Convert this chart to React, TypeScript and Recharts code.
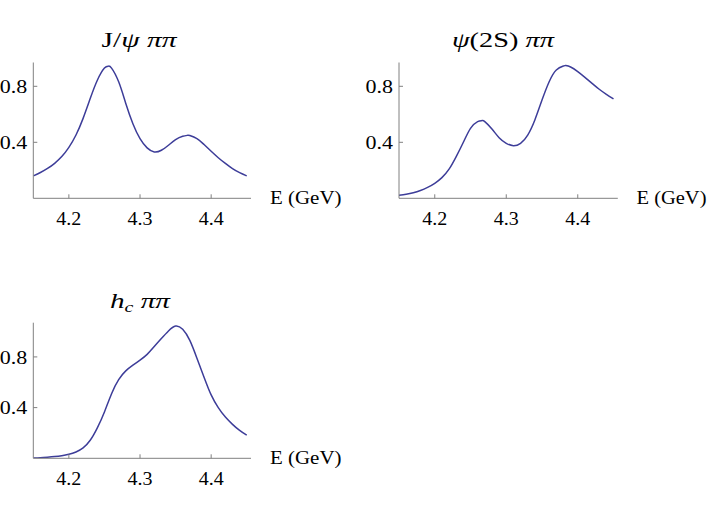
import React from 'react';
import { LineChart, Line, XAxis, YAxis } from 'recharts';

// J/psi pi pi
const jpsiEnergy = [4.15, 4.16, 4.17, 4.18, 4.19, 4.2, 4.21, 4.22, 4.23, 4.24, 4.25, 4.2555, 4.26, 4.27, 4.28, 4.29, 4.3, 4.31, 4.32, 4.33, 4.34, 4.35, 4.36, 4.367, 4.37, 4.38, 4.39, 4.4, 4.41, 4.42, 4.43, 4.44, 4.45];
const jpsiValue = [0.16, 0.184, 0.213, 0.25, 0.298, 0.364, 0.452, 0.571, 0.712, 0.843, 0.93, 0.944, 0.93, 0.832, 0.677, 0.533, 0.426, 0.36, 0.331, 0.343, 0.379, 0.419, 0.443, 0.45, 0.448, 0.426, 0.384, 0.336, 0.29, 0.249, 0.212, 0.183, 0.16];

// psi(2S) pi pi
const psiEnergy = [4.15, 4.16, 4.17, 4.18, 4.19, 4.2, 4.21, 4.22, 4.23, 4.24, 4.25, 4.26, 4.266, 4.27, 4.28, 4.29, 4.3, 4.31, 4.32, 4.33, 4.34, 4.35, 4.36, 4.37, 4.38, 4.3833, 4.39, 4.4, 4.41, 4.42, 4.43, 4.44, 4.45];
const psiValue = [0.021, 0.029, 0.04, 0.056, 0.078, 0.107, 0.148, 0.208, 0.298, 0.4, 0.5, 0.548, 0.555, 0.548, 0.495, 0.433, 0.393, 0.376, 0.393, 0.452, 0.56, 0.702, 0.833, 0.917, 0.945, 0.948, 0.938, 0.905, 0.864, 0.821, 0.779, 0.743, 0.71];

// h_c pi pi
const hcEnergy = [4.15, 4.16, 4.17, 4.18, 4.19, 4.2, 4.21, 4.22, 4.23, 4.24, 4.25, 4.26, 4.27, 4.28, 4.29, 4.3, 4.31, 4.32, 4.33, 4.34, 4.35, 4.36, 4.37, 4.38, 4.39, 4.4, 4.41, 4.42, 4.43, 4.44, 4.45];
const hcValue = [0.003, 0.005, 0.009, 0.014, 0.021, 0.032, 0.05, 0.082, 0.142, 0.24, 0.366, 0.51, 0.621, 0.69, 0.735, 0.775, 0.82, 0.882, 0.945, 1.005, 1.044, 1.018, 0.93, 0.79, 0.64, 0.5, 0.4, 0.325, 0.268, 0.22, 0.182];

const xTicks = [4.2, 4.3, 4.4];
const yTicks = [0.4, 0.8];
const xDomain = [4.15, 4.456];

const FONT = 'Liberation Serif';
const AXIS = '#808080';
const CURVE = '#3d3d99';

const toRows = (es: number[], vs: number[]) => es.map((e, i) => ({ e, v: vs[i] }));

const XTick = (props: any) => {
  const { x, y, payload } = props;
  return (
    <text x={x} y={y} dy={26.5} textAnchor="middle" fontFamily={FONT} fontSize={18}
      textLength={25} lengthAdjust="spacingAndGlyphs" fill="#000">
      {Number(payload.value).toFixed(1)}
    </text>
  );
};

const YTick = (props: any) => {
  const { x, y, payload } = props;
  return (
    <text x={x} y={y} dy={6.6} textAnchor="end" fontFamily={FONT} fontSize={18}
      textLength={27.5} lengthAdjust="spacingAndGlyphs" fill="#000">
      {Number(payload.value).toFixed(1)}
    </text>
  );
};

type PanelProps = {
  left: number; top: number; width: number; height: number;
  yAxisWidth: number; marginTop: number; marginRight: number; marginBottom: number;
  yMax: number; rows: { e: number; v: number }[];
};

const Panel = (p: PanelProps) => (
  <div style={{ position: 'absolute', left: p.left, top: p.top }}>
    <LineChart width={p.width} height={p.height} data={p.rows}
      margin={{ top: p.marginTop, right: p.marginRight, bottom: p.marginBottom, left: 0 }}>
      <XAxis dataKey="e" type="number" domain={xDomain} ticks={xTicks} allowDataOverflow
        height={30} tickSize={-4} tickMargin={4} stroke={AXIS}
        axisLine={{ stroke: AXIS, strokeWidth: 1 }} tickLine={{ stroke: AXIS }} tick={<XTick />} />
      <YAxis type="number" domain={[0, p.yMax]} ticks={yTicks} allowDataOverflow
        width={p.yAxisWidth} tickSize={-4} tickMargin={10} stroke={AXIS}
        axisLine={{ stroke: AXIS, strokeWidth: 1 }} tickLine={{ stroke: AXIS }} tick={<YTick />} />
      <Line dataKey="v" type="natural" stroke={CURVE} strokeWidth={1.5} dot={false}
        activeDot={false} isAnimationActive={false} />
    </LineChart>
  </div>
);

export default function App() {
  return (
    <div style={{ position: 'absolute', left: 0, top: 0, width: 708, height: 508, background: '#fff', overflow: 'hidden' }}>
      <Panel left={0} top={0} width={360} height={250} yAxisWidth={33.3}
        marginTop={62.5} marginRight={109} marginBottom={21.7} yMax={0.97}
        rows={toRows(jpsiEnergy, jpsiValue)} />
      <Panel left={360} top={0} width={348} height={250} yAxisWidth={39}
        marginTop={62.5} marginRight={90.2} marginBottom={21.7} yMax={0.97}
        rows={toRows(psiEnergy, psiValue)} />
      <Panel left={0} top={260} width={360} height={250} yAxisWidth={33.3}
        marginTop={62.7} marginRight={109} marginBottom={21.7} yMax={1.07}
        rows={toRows(hcEnergy, hcValue)} />
      <svg width={708} height={508} style={{ position: 'absolute', left: 0, top: 0, pointerEvents: 'none' }}>
        <g fontFamily={FONT} fill="#000">
          <text x={139} y={46.5} textAnchor="middle" fontSize={22} textLength={75} lengthAdjust="spacingAndGlyphs">
            <tspan>J/</tspan><tspan fontStyle="italic">ψ</tspan><tspan> </tspan><tspan fontStyle="italic">ππ</tspan>
          </text>
          <text x={503} y={46.5} textAnchor="middle" fontSize={22} textLength={102} lengthAdjust="spacingAndGlyphs">
            <tspan fontStyle="italic">ψ</tspan><tspan>(2S) </tspan><tspan fontStyle="italic">ππ</tspan>
          </text>
          <text x={140} y={308} textAnchor="middle" fontSize={22} textLength={60} lengthAdjust="spacingAndGlyphs">
            <tspan fontStyle="italic">h</tspan><tspan fontStyle="italic" fontSize={15} dy={4}>c</tspan><tspan dy={-4}> </tspan><tspan fontStyle="italic">ππ</tspan>
          </text>
          <text x={270} y={203.5} fontSize={19.5} textLength={71.5} lengthAdjust="spacingAndGlyphs">E (GeV)</text>
          <text x={636.5} y={203.5} fontSize={19.5} textLength={70} lengthAdjust="spacingAndGlyphs">E (GeV)</text>
          <text x={270} y={463.5} fontSize={19.5} textLength={71.5} lengthAdjust="spacingAndGlyphs">E (GeV)</text>
        </g>
      </svg>
    </div>
  );
}
